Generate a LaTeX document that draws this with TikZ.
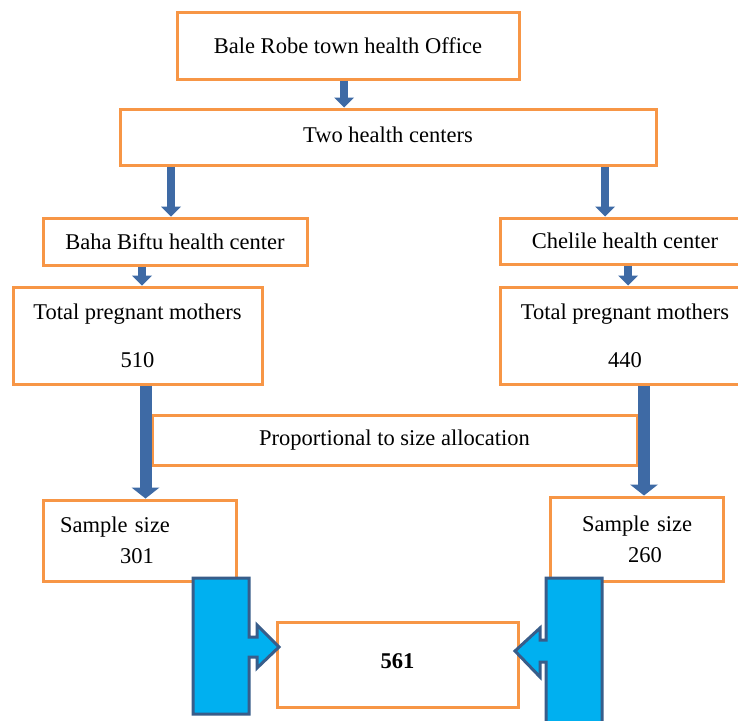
\documentclass[tikz,border=0pt]{standalone}
\usepackage{fontspec}
\setmainfont{Liberation Serif}
\usetikzlibrary{arrows.meta}

\definecolor{boxorange}{HTML}{F79646}
\definecolor{arrowblue}{HTML}{3E6AA5}
\definecolor{arrowedge}{HTML}{385D8A}
\definecolor{bendfill}{HTML}{00B0F0}

\begin{document}
\begin{tikzpicture}[x=1pt, y=-1pt,
    box/.style={draw=boxorange, line width=3pt, fill=white, inner sep=0pt,
      font=\fontsize{22.5}{27}\selectfont},
    link/.style={arrowblue, line width=8pt,
      -{Triangle[length=10pt, width=20pt, line width=0pt]}},
    biglink/.style={arrowblue, line width=12pt,
      -{Triangle[length=11pt, width=28pt, line width=0pt]}},
    blockarrow/.style={fill=bendfill, draw=arrowedge, line width=3pt, line join=miter}]
  \useasboundingbox (0,0) rectangle (738,720);
  \fill[white] (0,0) rectangle (738,720);

  % levels: office -> centers -> the two health centers
  \node[box, minimum width=342pt, minimum height=67pt] (office) at (348,45.5) {Bale Robe town health Office};
  \node[box, minimum width=536pt, minimum height=56pt] (centers) at (388,137) {\raisebox{5pt}{Two health centers}};
  \node[box, minimum width=264pt, minimum height=47pt] (baha) at (175,241.5) {Baha Biftu health center};
  \node[box, minimum width=250pt, minimum height=46pt] (chelile) at (625,241) {Chelile health center};

  % pregnant mothers per center
  \node[box, minimum width=249pt, minimum height=97pt, align=center] (totalb) at (137.5,335.5) {Total pregnant mothers\\[21pt]510};
  \node[box, minimum width=250pt, minimum height=97pt, align=center] (totalc) at (625,335.5) {Total pregnant mothers\\[21pt]440};

  \node[box, minimum width=485pt, minimum height=50pt] (alloc) at (394.5,440) {Proportional to size allocation};

  % sample sizes
  \node[box, text width=159pt, inner xsep=17pt, minimum height=81pt, align=left] (sampleb) at (139.5,540.5) {Sample size\\[4pt]\hspace*{60pt}301};
  \node[box, text width=113pt, inner xsep=30pt, minimum height=84pt, align=left] (samplec) at (636.5,539) {\hspace*{2pt}Sample size\\[4pt]\hspace*{48pt}260};
  \node[box, minimum width=241pt, minimum height=85pt, font=\fontsize{22.5}{27}\selectfont\bfseries] (total) at (397.5,664.5) {\raisebox{6pt}{561}};

  \draw[link] ([xshift=-4pt]office.south) -- ([xshift=-4pt]office.south |- centers.north);
  \draw[link] ([xshift=-4pt]baha.north |- centers.south) -- ([xshift=-4pt]baha.north);
  \draw[link] ([xshift=-20pt]chelile.north |- centers.south) -- ([xshift=-20pt]chelile.north);
  \draw[link] ([xshift=4.5pt]totalb.north |- baha.south) -- ([xshift=4.5pt]totalb.north);
  \draw[link] ([xshift=3pt]totalc.north |- chelile.south) -- ([xshift=3pt]totalc.north);
  \draw[biglink] ([xshift=8pt]totalb.south) -- ([xshift=8pt]totalb.south |- sampleb.north);
  \draw[biglink] ([xshift=19pt]totalc.south) -- ([xshift=19pt]totalc.south |- samplec.north);

  % bent block arrows into the total
  \draw[blockarrow] (193,578) -- (249,578) -- (249,637) -- (257,637) -- (257,625) -- (279,647)
    -- (257,668) -- (257,657) -- (249,657) -- (249,714) -- (193,714) -- cycle;
  \draw[blockarrow] (602,578) -- (546,578) -- (546,640) -- (540,640) -- (540,628) -- (515,651)
    -- (540,677) -- (540,662) -- (546,662) -- (546,730) -- (602,730) -- cycle;
\end{tikzpicture}
\end{document}
